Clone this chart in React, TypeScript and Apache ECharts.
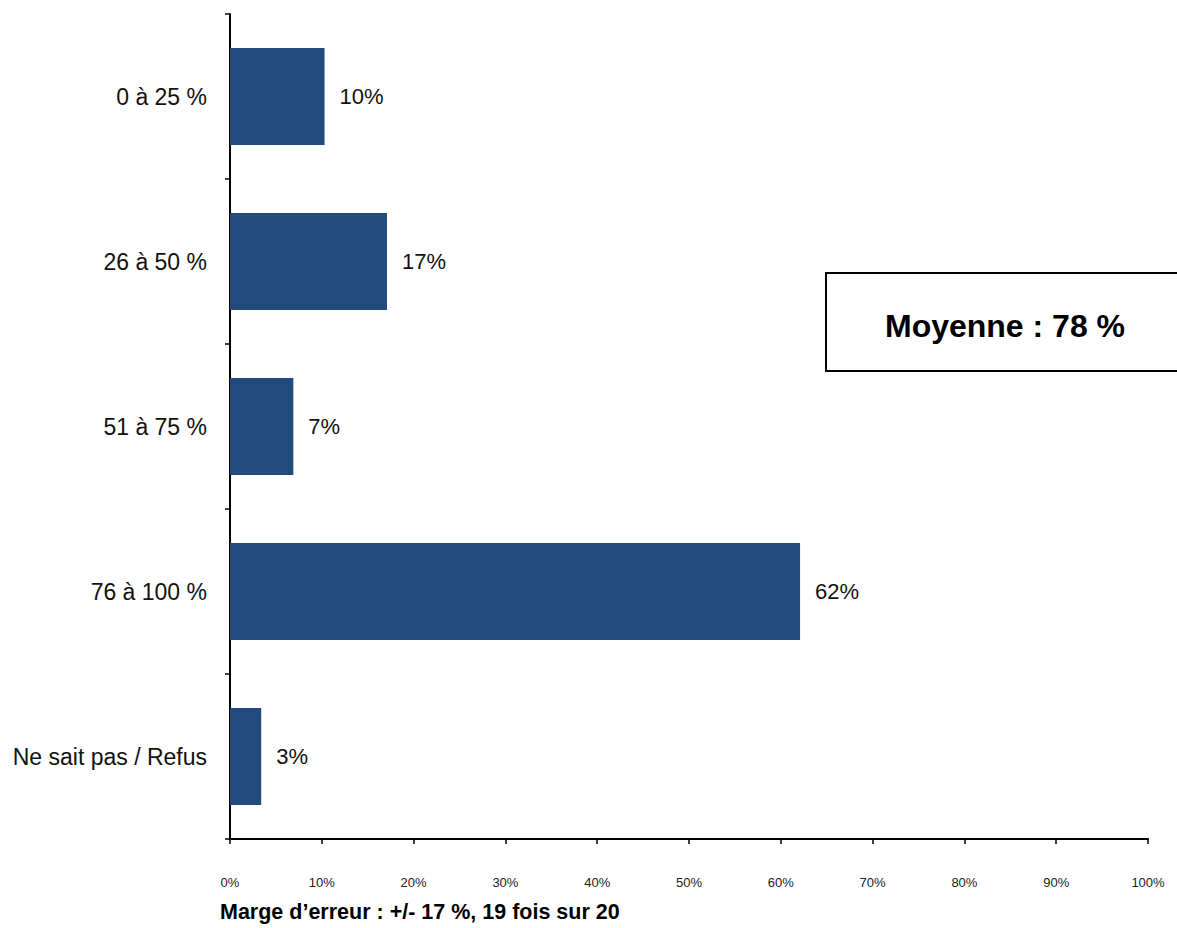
import React, { useEffect, useRef } from "react";
import * as echarts from "echarts";

const categories = ["0 à 25 %", "26 à 50 %", "51 à 75 %", "76 à 100 %", "Ne sait pas / Refus"];
const values = [10.3, 17.1, 6.9, 62.1, 3.4];
const xTicks = [0, 10, 20, 30, 40, 50, 60, 70, 80, 90, 100];
const averageText = "Moyenne : 78 %";
const footerText = "Marge d’erreur : +/- 17 %, 19 fois sur 20";

export default function App() {
  const ref = useRef<HTMLDivElement>(null);
  useEffect(() => {
    document.body.style.margin = "0";
    const chart = echarts.init(ref.current!, null, { renderer: "svg" });
    const narrow = "'Liberation Sans Narrow', 'Arial Narrow', 'Liberation Sans', Arial, sans-serif";
    const sans = "'Liberation Sans', Arial, sans-serif";
    chart.setOption({
      animation: false,
      backgroundColor: "#ffffff",
      grid: { left: 230, right: 29, top: 14, bottom: 89, containLabel: false },
      xAxis: {
        type: "value",
        min: xTicks[0],
        max: xTicks[xTicks.length - 1],
        interval: 10,
        axisLine: { show: true, lineStyle: { color: "#000", width: 2 } },
        axisTick: { show: true, length: 5, lineStyle: { color: "#000", width: 1.5 } },
        splitLine: { show: false },
        axisLabel: {
          formatter: (v: number) => v + "%",
          fontSize: 13,
          color: "#222",
          fontFamily: sans,
          margin: 37,
        },
      },
      yAxis: {
        type: "category",
        data: categories,
        inverse: true,
        axisLine: { show: true, lineStyle: { color: "#000", width: 2 } },
        axisTick: { show: true, length: 5, lineStyle: { color: "#000", width: 1.5 } },
        axisLabel: {
          fontSize: 23,
          color: "#111",
          fontFamily: narrow,
          margin: 23,
        },
      },
      series: [
        {
          type: "bar",
          data: values,
          barWidth: 97,
          itemStyle: { color: "#224A7C" },
          label: {
            show: true,
            position: "right",
            distance: 15,
            fontSize: 22,
            color: "#111",
            fontFamily: narrow,
            formatter: (p: any) => Math.round(p.value) + "%",
          },
        },
      ],
      graphic: [
        {
          type: "rect",
          shape: { x: 826, y: 273, width: 360, height: 98 },
          style: { fill: "#fff", stroke: "#000", lineWidth: 2 },
        },
        {
          type: "text",
          x: 1005,
          y: 326,
          style: {
            text: averageText,
            font: "bold 32px 'Liberation Sans', Arial, sans-serif",
            fill: "#000",
            align: "center",
            verticalAlign: "middle",
          },
        },
        {
          type: "text",
          x: 220,
          y: 912,
          style: {
            text: footerText,
            font: "bold 21.5px 'Liberation Sans', Arial, sans-serif",
            fill: "#000",
            align: "left",
            verticalAlign: "middle",
          },
        },
      ],
    });
    return () => chart.dispose();
  }, []);
  return <div ref={ref} style={{ width: 1177, height: 928 }} />;
}
